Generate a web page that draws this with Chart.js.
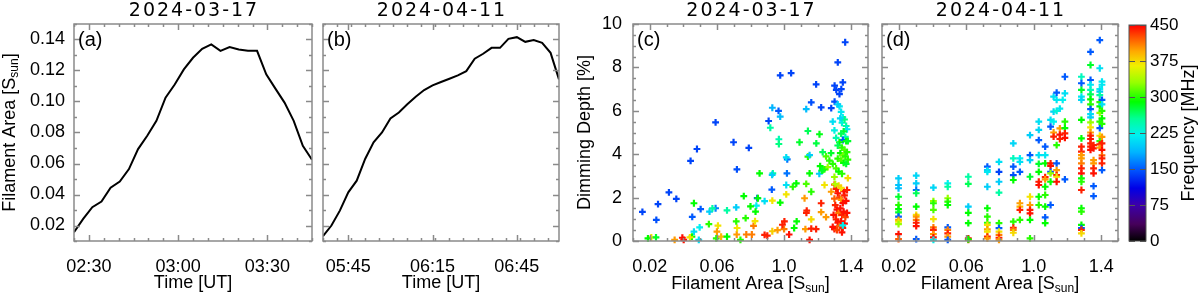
<!DOCTYPE html>
<html>
<head>
<meta charset="utf-8">
<script src="https://cdn.jsdelivr.net/npm/chart.js@4"></script>
<style>
  html, body { margin: 0; padding: 0; background: #fff; }
  #wrap { position: relative; width: 1200px; height: 296px; }
  #wrap canvas { position: absolute; left: 0; top: 0; }
</style>
</head>
<body>
<div id="wrap">
  <canvas id="panel-a" width="1200" height="296"></canvas>
  <canvas id="panel-b" width="1200" height="296"></canvas>
  <canvas id="panel-c" width="1200" height="296"></canvas>
  <canvas id="panel-d" width="1200" height="296"></canvas>
  <canvas id="colorbar" width="1200" height="296"></canvas>
</div>
<script>
// ---- data ----

// (a) 2024-03-17 filament area vs time
const aTime = ['02:25:00', '02:28:05', '02:31:09', '02:34:14', '02:37:18', '02:40:23', '02:43:28', '02:46:32', '02:49:37',
  '02:52:42', '02:55:46', '02:58:51', '03:01:55', '03:05:00', '03:08:05', '03:11:09', '03:14:14', '03:17:18',
  '03:20:23', '03:23:28', '03:26:32', '03:29:37', '03:32:42', '03:35:46', '03:38:51', '03:41:55', '03:45:00']
const aArea = [0.0157, 0.0243, 0.0318, 0.0354, 0.0444, 0.0483, 0.0564, 0.0693, 0.0779,
  0.0875, 0.1025, 0.1110, 0.1207, 0.1282, 0.1340, 0.1368, 0.1327, 0.1351,
  0.1336, 0.1327, 0.1327, 0.1175, 0.1083, 0.0993, 0.0875, 0.0714, 0.0624]

// (b) 2024-04-11 filament area vs time
const bTime = ['05:36', '05:39', '05:42', '05:45', '05:48', '05:51', '05:54', '05:57', '06:00', '06:03',
  '06:06', '06:09', '06:12', '06:15', '06:18', '06:21', '06:24', '06:27', '06:30', '06:33',
  '06:36', '06:39', '06:42', '06:45', '06:48', '06:51', '06:54', '06:57', '07:00']
const bArea = [0.0131, 0.0200, 0.0296, 0.0414, 0.0489, 0.0629, 0.0736, 0.0800, 0.0890, 0.0929,
  0.0982, 0.1031, 0.1074, 0.1104, 0.1126, 0.1147, 0.1169, 0.1196, 0.1276, 0.1308,
  0.1346, 0.1346, 0.1404, 0.1415, 0.1385, 0.1396, 0.1379, 0.1314, 0.1143]

// (c) 2024-03-17 dimming depth vs filament area, coloured by frequency
const cArea = [
  0.0156, 0.0239, 0.0249, 0.0314, 0.0358, 0.0443, 0.0453, 0.0481, 0.0503, 0.0592,
  0.0592, 0.0699, 0.0719, 0.0790, 0.0840, 0.0908, 0.0927, 0.0977, 0.1042, 0.0930,
  0.0967, 0.0977, 0.0918, 0.0969, 0.0969, 0.1191, 0.1221, 0.1162, 0.1132, 0.1281,
  0.1301, 0.1301, 0.1311, 0.1341, 0.1330, 0.1350, 0.1320, 0.1364, 0.1142, 0.1211,
  0.1092, 0.1192, 0.1019, 0.1013, 0.0463, 0.0556, 0.0573, 0.0660, 0.0715, 0.0771,
  0.0835, 0.0844, 0.0884, 0.0930, 0.0977, 0.1013, 0.1052, 0.1013, 0.1073, 0.1132,
  0.1122, 0.1162, 0.1221, 0.1241, 0.1281, 0.0606, 0.0600, 0.0552, 0.0497, 0.0463,
  0.0451, 0.0394, 0.0348, 0.0439, 0.0209, 0.0189, 0.0237, 0.0402, 0.0492, 0.0596,
  0.0625, 0.0660, 0.0718, 0.0720, 0.0715, 0.0740, 0.0775, 0.0808, 0.0818, 0.0827,
  0.0830, 0.0884, 0.0900, 0.0930, 0.0961, 0.1000, 0.1030, 0.0990, 0.1002, 0.1060,
  0.1075, 0.1127, 0.1152, 0.1133, 0.1135, 0.1162, 0.1191, 0.1162, 0.1221, 0.1250,
  0.0854, 0.0933, 0.0929, 0.1017, 0.1152, 0.1142, 0.1152, 0.1210, 0.1230, 0.0760,
  0.0800, 0.1330, 0.1340, 0.1350, 0.1345, 0.1360, 0.1370, 0.1375, 0.1355, 0.1340,
  0.1365, 0.1350, 0.1330, 0.1370, 0.1380, 0.1320, 0.1345, 0.1360, 0.1375, 0.1335,
  0.1350, 0.1365, 0.1380, 0.1320, 0.1340, 0.1355, 0.1370, 0.1310, 0.1325, 0.1345,
  0.1300, 0.1290, 0.1280, 0.1270, 0.1260, 0.1250, 0.1240, 0.1230, 0.1215, 0.1225,
  0.1290, 0.1300, 0.1310, 0.1320, 0.1335, 0.1300, 0.1310, 0.1320, 0.1330, 0.1340,
  0.1350, 0.1360, 0.1370, 0.1300, 0.1305, 0.1315, 0.1325, 0.1335, 0.1345, 0.1355,
  0.1365, 0.1375, 0.1295, 0.1310, 0.1320, 0.1330, 0.1340, 0.1350, 0.1360, 0.1290,
  0.1300, 0.1315, 0.1345, 0.1355, 0.1340, 0.1325, 0.1375, 0.1380, 0.1350, 0.1305]
const cDepth = [
  1.34, 0.97, 1.70, 2.24, 1.94, 3.69, 1.11, 4.24, 1.47, 5.47,
  1.51, 4.55, 3.30, 4.29, 1.98, 5.53, 2.37, 7.63, 7.74, 6.14,
  6.00, 5.73, 5.22, 4.69, 4.47, 7.22, 6.16, 6.39, 6.08, 6.12,
  6.42, 7.16, 6.96, 7.00, 6.77, 7.31, 8.23, 9.16, 5.07, 4.92,
  4.55, 4.50, 3.76, 3.85, 1.74, 1.35, 1.50, 1.41, 1.55, 1.05,
  1.63, 1.97, 1.84, 1.86, 1.77, 2.58, 2.50, 2.15, 2.66, 2.63,
  1.97, 2.27, 1.74, 2.58, 2.27, 0.71, 0.43, 0.78, 0.63, 0.43,
  0.20, 0.15, 0.05, 0.17, 0.17, 0.12, 0.17, 0.05, 0.05, 0.12,
  0.20, 0.20, 0.30, 0.60, 0.90, 0.05, 0.30, 0.30, 0.70, 0.92,
  1.35, 0.28, 0.25, 0.45, 0.50, 0.55, 0.30, 0.75, 0.90, 0.60,
  0.90, 0.55, 0.05, 1.30, 1.40, 1.00, 0.55, 0.57, 1.33, 1.10,
  3.12, 3.12, 3.05, 3.12, 3.12, 3.89, 3.96, 3.10, 3.27, 2.07,
  1.60, 6.20, 5.95, 5.70, 5.45, 5.60, 5.30, 5.15, 5.05, 4.95,
  4.80, 4.65, 4.55, 4.60, 4.60, 4.40, 4.30, 4.20, 4.10, 4.05,
  3.95, 3.90, 3.75, 3.80, 3.70, 3.60, 3.55, 3.35, 3.20, 3.10,
  2.95, 3.55, 4.05, 3.70, 3.40, 3.90, 3.30, 4.10, 3.45, 3.25,
  5.50, 5.10, 4.75, 6.30, 5.65, 2.60, 2.40, 2.20, 2.00, 1.90,
  1.75, 2.10, 1.85, 1.95, 1.65, 1.45, 1.30, 1.50, 1.20, 1.35,
  1.10, 1.30, 1.20, 1.00, 0.85, 0.70, 0.90, 0.60, 0.80, 0.65,
  0.55, 0.50, 0.40, 2.30, 2.45, 2.55, 2.35, 2.90, 0.72, 2.62]
const cFreq = [
  140, 145, 140, 140, 140, 140, 150, 140, 150, 140,
  165, 140, 145, 140, 150, 140, 150, 140, 140, 185,
  150, 190, 250, 245, 260, 140, 140, 145, 190, 140,
  145, 140, 140, 140, 140, 140, 140, 140, 270, 285,
  280, 275, 160, 210, 290, 200, 250, 250, 200, 300,
  220, 290, 210, 370, 290, 210, 300, 370, 290, 310,
  400, 300, 440, 370, 400, 370, 400, 300, 220, 210,
  290, 445, 400, 370, 370, 290, 280, 445, 210, 300,
  390, 290, 400, 370, 300, 300, 410, 410, 410, 370,
  290, 440, 440, 380, 400, 410, 445, 440, 440, 290,
  290, 400, 445, 440, 440, 375, 440, 440, 400, 400,
  290, 250, 200, 160, 290, 300, 200, 200, 290, 290,
  290, 215, 215, 220, 230, 260, 250, 215, 280, 270,
  240, 150, 290, 290, 280, 270, 300, 310, 300, 290,
  320, 300, 300, 300, 310, 290, 280, 310, 290, 300,
  330, 300, 280, 300, 330, 310, 300, 270, 290, 280,
  210, 225, 245, 200, 205, 420, 440, 445, 430, 400,
  445, 440, 445, 420, 440, 445, 410, 445, 440, 445,
  430, 445, 445, 440, 445, 420, 445, 440, 445, 445,
  445, 430, 445, 445, 370, 380, 440, 375, 220, 340]

// (d) 2024-04-11: points come in columns of equal filament area
const dColumnArea = [0.0198, 0.0303, 0.0405, 0.0490, 0.0612, 0.0725, 0.0794, 0.0879, 0.0918, 0.0978, 0.1030, 0.1068,
  0.1100, 0.1118, 0.1136, 0.1155, 0.1172, 0.1185, 0.1283, 0.1337, 0.1355, 0.1392, 0.1405]
const dDepth = [
  [2.89, 2.58, 2.43, 2.04, 1.66, 1.47, 1.32, 1.12, 0.97, 0.89, 0.78, 0.32, 0.09],
  [3.01, 2.66, 2.35, 2.20, 1.58, 1.20, 1.12, 0.97, 0.84, 0.69, 0.09],
  [2.46, 1.84, 1.74, 1.43, 1.01, 0.63, 0.51, 0.32, 0.17, 0.05],
  [2.66, 2.50, 1.97, 1.81, 1.66, 0.63, 0.51, 0.35, 0.20, 0.05],
  [2.96, 2.63, 1.58, 1.30, 0.82, 0.12, 0.05, 0.08],
  [3.43, 3.27, 3.19, 2.50, 1.51, 1.12, 0.84, 0.74, 0.54, 0.43, 0.20, 0.12],
  [3.65, 3.19, 2.73, 2.23, 0.82, 0.59, 0.43, 0.28, 0.15, 0.05],
  [4.50, 3.81, 3.43, 3.04, 2.81, 0.89, 0.61, 0.51, 0.38],
  [3.81, 3.65, 3.19, 1.74, 1.58, 1.43, 0.97],
  [4.88, 3.96, 3.73, 2.96, 2.04, 1.66, 1.43, 1.27, 0.97, 0.12],
  [5.50, 5.12, 4.65, 3.96, 3.55, 3.19, 2.73, 2.58, 2.04, 1.66],
  [4.35, 3.96, 3.58, 2.94, 2.84, 2.50, 2.12, 1.58, 1.09, 0.82],
  [5.58, 5.27, 3.58, 3.46, 3.19, 3.12, 2.73, 1.66],
  [6.65, 5.96, 5.50, 5.00, 4.81],
  [6.84, 6.50, 6.00, 4.42, 3.58, 3.27, 3.04, 2.96, 2.73],
  [6.10, 5.19, 4.90, 4.70],
  [6.50],
  [7.57, 6.80, 5.50, 5.20, 4.96, 4.75, 2.84],
  [7.57, 7.27, 6.96, 6.65, 6.50, 5.58, 4.73, 4.35, 4.12, 3.96, 3.81, 3.58, 3.35, 3.12, 2.89, 2.73, 2.35, 1.51, 1.35, 0.74, 0.59, 0.51, 0.35],
  [8.72, 8.11, 7.42, 7.20, 6.96, 6.76, 6.53, 6.30, 6.08, 5.85, 5.70, 5.47, 5.24, 5.00, 4.86, 4.70, 4.50, 4.35, 4.20],
  [4.42, 4.27, 3.73, 3.58, 3.35, 3.12, 2.53, 2.07],
  [9.26, 7.96, 7.00, 6.88, 6.72, 6.40, 6.20, 5.90, 5.50, 5.20, 4.85, 4.60, 4.45, 4.30],
  [7.34, 7.20, 6.50, 6.30, 6.00, 5.65, 5.40, 4.80, 4.50, 4.20, 3.95, 3.81, 3.58, 3.27]]
const dFreq = [
  [200, 195, 190, 280, 300, 290, 280, 150, 400, 370, 330, 445, 420],
  [205, 200, 160, 270, 290, 370, 400, 410, 440, 445, 150],
  [205, 330, 300, 310, 370, 410, 440, 400, 445, 220],
  [220, 250, 330, 300, 290, 150, 410, 440, 400, 150],
  [250, 270, 200, 290, 290, 445, 420, 290],
  [150, 200, 215, 200, 290, 300, 300, 370, 400, 370, 440, 400],
  [210, 140, 200, 250, 300, 150, 370, 410, 440, 400],
  [205, 240, 150, 145, 290, 300, 440, 410, 375],
  [220, 210, 150, 400, 390, 440, 300],
  [200, 150, 200, 280, 370, 400, 440, 445, 290, 300],
  [210, 205, 150, 210, 280, 290, 440, 445, 290, 300],
  [150, 215, 290, 440, 400, 290, 300, 290, 150, 290],
  [210, 150, 440, 445, 150, 330, 290, 150],
  [210, 205, 220, 400, 440],
  [150, 215, 230, 300, 150, 400, 440, 370, 445],
  [215, 400, 445, 440],
  [220],
  [150, 210, 300, 290, 440, 445, 150],
  [240, 150, 280, 215, 205, 290, 290, 440, 440, 400, 400, 410, 440, 445, 290, 300, 440, 290, 300, 290, 150, 440, 375],
  [150, 280, 150, 215, 240, 270, 290, 300, 150, 210, 200, 330, 370, 400, 440, 445, 440, 440, 445],
  [440, 445, 400, 400, 440, 445, 150, 150],
  [150, 210, 220, 200, 250, 300, 290, 330, 300, 150, 370, 300, 440, 400],
  [215, 215, 150, 210, 300, 290, 300, 400, 440, 445, 420, 440, 440, 150]]

// axes
const aRange = ['02:25', '03:45']
const bRange = ['05:36', '07:00']
const aTimeTicks = ['02:30', '03:00', '03:30']
const bTimeTicks = ['05:45', '06:15', '06:45']
const areaRange = [0.01, 0.15]
const areaTicks = [0.02, 0.04, 0.06, 0.08, 0.10, 0.12, 0.14]
const scatterAreaTicks = [0.02, 0.06, 0.10, 0.14]
const scatterAreaLabels = ['0.02', '0.06', '1.0', '1.4']
const depthTicks = [0, 2, 4, 6, 8, 10]
const freqTicks = [0, 75, 150, 225, 300, 375, 450]

// colour table (frequency in MHz -> rgb)
const cmapStops = [
  [0, [0, 0, 0]], [35, [70, 0, 90]], [75, [60, 0, 170]], [110, [0, 0, 230]],
  [150, [0, 90, 255]], [185, [0, 180, 255]], [220, [0, 240, 240]], [255, [0, 255, 150]],
  [290, [0, 255, 0]], [330, [150, 255, 0]], [365, [240, 240, 0]], [395, [255, 170, 0]],
  [425, [255, 80, 0]], [450, [255, 0, 0]]
]

function freqColor(f) {
  for (let i = 1; i < cmapStops.length; i++) {
    const [v1, c1] = cmapStops[i]
    if (f <= v1) {
      const [v0, c0] = cmapStops[i - 1]
      const t = (f - v0) / (v1 - v0)
      return `rgb(${c0.map((c, k) => Math.round(c + (c1[k] - c) * t)).join(',')})`
    }
  }
  return 'rgb(255,0,0)'
}

const toMin = s => {
  const [h, m, sec = '0'] = s.split(':')
  return +h * 60 + +m + +sec / 60
}
const pad2 = n => String(n).padStart(2, '0')
const fmtTime = v => `${pad2(Math.floor(v / 60))}:${pad2(Math.round(v % 60))}`

const steps = (lo, hi, step) => {
  const out = []
  for (let v = lo; v <= hi + step * 1e-6; v += step) out.push(+v.toFixed(6))
  return out
}

const FONT = 'Liberation Sans, Arial, sans-serif'
const FRAME = '#8a8a8a'

// IDL style box: frame + inward major/minor ticks on all four sides
const idlBox = {
  id: 'idlBox',
  afterDatasetsDraw(chart, args, o) {
    const { ctx, chartArea: a, scales: { x, y } } = chart
    ctx.save()
    ctx.strokeStyle = o.color || FRAME
    ctx.lineWidth = o.width || 1.5
    ctx.strokeRect(a.left, a.top, a.right - a.left, a.bottom - a.top)
    ctx.beginPath()
    const xt = (vals, len) => vals.forEach(v => {
      const p = Math.round(x.getPixelForValue(v)) + 0.5
      ctx.moveTo(p, a.bottom); ctx.lineTo(p, a.bottom - len)
      ctx.moveTo(p, a.top); ctx.lineTo(p, a.top + len)
    })
    const yt = (vals, len) => vals.forEach(v => {
      const p = Math.round(y.getPixelForValue(v)) + 0.5
      ctx.moveTo(a.left, p); ctx.lineTo(a.left + len, p)
      ctx.moveTo(a.right, p); ctx.lineTo(a.right - len, p)
    })
    if (o.xMinor) xt(o.xMinor, 3)
    if (o.xMajor) xt(o.xMajor, 6)
    if (o.yMinor) yt(o.yMinor, 3)
    if (o.yMajor) yt(o.yMajor, 6)
    ctx.stroke()
    ctx.restore()
  }
}

function drawRich(ctx, parts, x, y, rot) {
  ctx.save()
  ctx.translate(x, y)
  ctx.rotate(rot)
  ctx.textBaseline = 'middle'
  ctx.textAlign = 'left'
  ctx.fillStyle = '#000'
  const fonts = parts.map(p => p.sub ? `12px ${FONT}` : `18px ${FONT}`)
  let w = 0
  parts.forEach((p, i) => { ctx.font = fonts[i]; w += ctx.measureText(p.t).width })
  let cx = -w / 2
  parts.forEach((p, i) => {
    ctx.font = fonts[i]
    ctx.fillText(p.t, cx, p.sub ? 5 : 0)
    cx += ctx.measureText(p.t).width
  })
  ctx.restore()
}

// panel titles, panel letters and axis titles (with subscripts)
const idlText = {
  id: 'idlText',
  afterDraw(chart, args, o) {
    const { ctx, chartArea: a } = chart
    const midX = (a.left + a.right) / 2
    const midY = (a.top + a.bottom) / 2
    ctx.save()
    ctx.fillStyle = '#000'
    if (o.title) {
      ctx.font = `19px DejaVu Sans, ${FONT}`
      ctx.letterSpacing = '2px'
      ctx.textAlign = 'center'
      ctx.textBaseline = 'middle'
      ctx.fillText(o.title, midX + 1, 11)
      ctx.letterSpacing = '0px'
    }
    if (o.panel) {
      ctx.font = `20px ${FONT}`
      ctx.textAlign = 'left'
      ctx.textBaseline = 'alphabetic'
      ctx.fillText(o.panel, a.left + 4, a.top + 22)
    }
    ctx.restore()
    if (o.xTitle) drawRich(ctx, o.xTitle, midX, o.xTitleY, 0)
    if (o.yTitle) drawRich(ctx, o.yTitle, o.yTitleX, midY, -Math.PI / 2)
  }
}

const areaTitle = [{ t: 'Filament Area [S' }, { t: 'sun', sub: true }, { t: ']' }]

const tickFont = { family: FONT, size: 18 }

function lineChart(id, times, areas, range, timeTicks, opts) {
  const lo = toMin(range[0]), hi = toMin(range[1])
  return new Chart(document.getElementById(id), {
    type: 'line',
    data: {
      datasets: [{
        data: times.map((t, i) => ({ x: toMin(t), y: areas[i] })),
        borderColor: '#000',
        borderWidth: 2,
        pointRadius: 0,
        tension: 0
      }]
    },
    options: {
      responsive: false,
      animation: false,
      events: [],
      layout: { padding: { left: opts.left, right: opts.right, top: 24, bottom: 0 } },
      plugins: {
        legend: { display: false },
        tooltip: { enabled: false },
        idlBox: {
          xMajor: timeTicks.map(toMin),
          xMinor: steps(lo, hi, 5),
          yMajor: areaTicks,
          yMinor: steps(areaRange[0], areaRange[1], 0.01)
        },
        idlText: opts.text
      },
      scales: {
        x: {
          type: 'linear',
          min: lo,
          max: hi,
          afterBuildTicks: s => { s.ticks = timeTicks.map(t => ({ value: toMin(t) })) },
          afterFit: s => { s.height = 55 },
          grid: { display: false, drawTicks: false },
          border: { display: false },
          ticks: { font: tickFont, color: '#000', padding: 15, maxRotation: 0, autoSkip: false, callback: v => fmtTime(v) }
        },
        y: {
          display: opts.yLabels,
          min: areaRange[0],
          max: areaRange[1],
          afterBuildTicks: s => { s.ticks = areaTicks.map(v => ({ value: v })) },
          afterFit: s => { s.width = opts.yLabels ? 74 : 0 },
          grid: { display: false, drawTicks: false },
          border: { display: false },
          ticks: { font: tickFont, color: '#000', padding: 9, callback: v => v.toFixed(2) }
        }
      }
    },
    plugins: [idlBox, idlText]
  })
}

function scatterChart(id, area, depth, freq, opts) {
  return new Chart(document.getElementById(id), {
    type: 'scatter',
    data: {
      datasets: [{
        data: area.map((x, i) => ({ x, y: depth[i] })),
        pointStyle: 'cross',
        pointRadius: 3.4,
        pointBorderWidth: 2.2,
        pointBorderColor: freq.map(freqColor),
        pointBackgroundColor: freq.map(freqColor),
        clip: 5
      }]
    },
    options: {
      responsive: false,
      animation: false,
      events: [],
      layout: { padding: { left: opts.left, right: opts.right, top: 24, bottom: 0 } },
      plugins: {
        legend: { display: false },
        tooltip: { enabled: false },
        idlBox: {
          xMajor: scatterAreaTicks,
          xMinor: steps(areaRange[0], areaRange[1], 0.01),
          yMajor: depthTicks,
          yMinor: steps(0, 10, 0.5)
        },
        idlText: opts.text
      },
      scales: {
        x: {
          type: 'linear',
          min: areaRange[0],
          max: areaRange[1],
          afterBuildTicks: s => { s.ticks = scatterAreaTicks.map(v => ({ value: v })) },
          afterFit: s => { s.height = 55 },
          grid: { display: false, drawTicks: false },
          border: { display: false },
          ticks: {
            font: tickFont, color: '#000', padding: 15, maxRotation: 0, autoSkip: false,
            callback: (v, i) => scatterAreaLabels[i]
          }
        },
        y: {
          display: opts.yLabels,
          min: 0,
          max: 10,
          afterBuildTicks: s => { s.ticks = depthTicks.map(v => ({ value: v })) },
          afterFit: s => { s.width = opts.yLabels ? 73 : 0 },
          grid: { display: false, drawTicks: false },
          border: { display: false },
          ticks: { font: tickFont, color: '#000', padding: 11, callback: v => String(v) }
        }
      }
    },
    plugins: [idlBox, idlText]
  })
}

lineChart('panel-a', aTime, aArea, aRange, aTimeTicks, {
  left: 0, right: 888, yLabels: true,
  text: { title: '2024-03-17', panel: '(a)', xTitle: [{ t: 'Time [UT]' }], xTitleY: 283, yTitle: areaTitle, yTitleX: 10 }
})

lineChart('panel-b', bTime, bArea, bRange, bTimeTicks, {
  left: 323, right: 641, yLabels: false,
  text: { title: '2024-04-11', panel: '(b)', xTitle: [{ t: 'Time [UT]' }], xTitleY: 283 }
})

scatterChart('panel-c', cArea, cDepth, cFreq, {
  left: 560, right: 332, yLabels: true,
  text: { title: '2024-03-17', panel: '(c)', xTitle: areaTitle, xTitleY: 284, yTitle: [{ t: 'Dimming Depth [%]' }], yTitleX: 585 }
})

const dArea = dColumnArea.flatMap((x, i) => dDepth[i].map(() => x))
scatterChart('panel-d', dArea, dDepth.flat(), dFreq.flat(), {
  left: 882, right: 82, yLabels: false,
  text: { title: '2024-04-11', panel: '(d)', xTitle: areaTitle, xTitleY: 284 }
})

// colour bar
new Chart(document.getElementById('colorbar'), {
  type: 'bar',
  data: {
    labels: [''],
    datasets: [{
      data: [[freqTicks[0], freqTicks[freqTicks.length - 1]]],
      barPercentage: 1,
      categoryPercentage: 1,
      borderWidth: 0,
      backgroundColor: c => {
        const area = c.chart.chartArea
        if (!area) return null
        const g = c.chart.ctx.createLinearGradient(0, area.bottom, 0, area.top)
        cmapStops.forEach(([v, rgb]) => g.addColorStop(v / 450, `rgb(${rgb.join(',')})`))
        return g
      }
    }]
  },
  options: {
    responsive: false,
    animation: false,
    events: [],
    layout: { padding: { left: 1129, right: 0, top: 25, bottom: 55 } },
    plugins: {
      legend: { display: false },
      tooltip: { enabled: false },
      idlBox: { color: '#555', width: 1, yMajor: freqTicks },
      idlText: { yTitle: [{ t: 'Frequency [MHz]' }], yTitleX: 1189 }
    },
    scales: {
      x: { display: false },
      y: {
        position: 'right',
        min: 0,
        max: 450,
        afterBuildTicks: s => { s.ticks = freqTicks.map(v => ({ value: v })) },
        afterFit: s => { s.width = 54 },
        grid: { display: false, drawTicks: false },
        border: { display: false },
        ticks: { font: { family: FONT, size: 17 }, color: '#000', padding: 4, callback: v => String(v) }
      }
    }
  },
  plugins: [idlBox, idlText]
})
</script>
</body>
</html>
